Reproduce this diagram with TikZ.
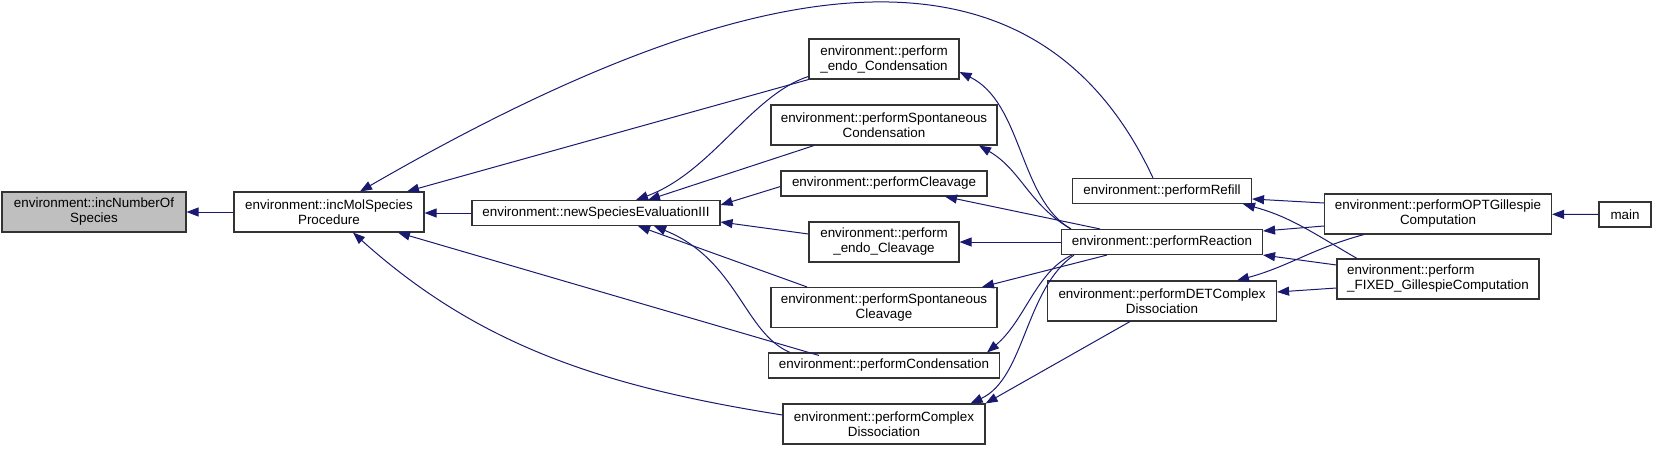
\documentclass[tikz,border=0pt]{standalone}
\usepackage{fontspec}
\setmainfont{Liberation Sans}
\usetikzlibrary{arrows.meta}
\definecolor{edgeblue}{HTML}{191970}
\newcommand{\fnfont}{\fontsize{13.4}{15}\selectfont}

\begin{document}
\begin{tikzpicture}[
  x=1pt, y=1pt,
  fn/.style={draw=black!80, line width=1.1pt, inner sep=0pt, align=center, font=\fnfont, minimum height=25pt},
  fn2/.style={fn, minimum height=40pt},
  call/.style={draw=edgeblue, line width=1pt, -{Triangle[length=12pt,width=9pt]}}
]
\useasboundingbox (0,0) rectangle (1656,-450);

\node[fn2, fill=gray!50, minimum width=184pt] (nos) at (94,-212) {environment::incNumberOf\\Species};
\node[fn2, minimum width=190pt] (mol) at (329,-212) {environment::incMolSpecies\\Procedure};
\node[fn, minimum width=248pt] (nse) at (596,-213) {environment::newSpeciesEvaluationIII};

\node[fn2, minimum width=150pt] (endoC)  at (884,-59)    {environment::perform\\\_endo\_Condensation};
\node[fn2, minimum width=226pt] (spC)    at (884,-125)   {environment::performSpontaneous\\Condensation};
\node[fn,  minimum width=206pt] (clv)    at (884,-183.5) {environment::performCleavage};
\node[fn2, minimum width=150pt] (endoCl) at (884,-242)   {environment::perform\\\_endo\_Cleavage};
\node[fn2, minimum width=226pt] (spCl)   at (884,-307.5) {environment::performSpontaneous\\Cleavage};
\node[fn,  minimum width=231pt] (cond)   at (884,-365.5) {environment::performCondensation};
\node[fn2, minimum width=202pt] (cplx)   at (884,-424)   {environment::performComplex\\Dissociation};

\node[fn,  minimum width=179pt] (refill) at (1162,-191) {environment::performRefill};
\node[fn,  minimum width=201pt] (react)  at (1162,-242) {environment::performReaction};
\node[fn2, minimum width=229pt] (det)    at (1162,-301) {environment::performDETComplex\\Dissociation};

\node[fn2, minimum width=227pt] (opt)   at (1438,-214) {environment::performOPTGillespie\\Computation};
\node[fn2, minimum width=202pt, align=left] (fixed) at (1438,-279) {environment::perform\\\_FIXED\_GillespieComputation};
\node[fn,  minimum width=52pt] (main) at (1625,-214.5) {main};

\draw[call] (mol) -- (nos);
\draw[call] (nse.west) -- (nse.west -| mol.east);
\draw[call] (endoC.south west) -- ([xshift=78pt]mol.north);
\draw[call] ([xshift=-9pt]refill.north) to[out=115, in=30, out distance=300pt, in distance=420pt] ([xshift=31pt]mol.north);
\draw[call] ([yshift=-3pt]cond.north) ++(-65,0) -- ([xshift=69pt]mol.south);
\draw[call] ([yshift=9pt]cplx.west) to[out=171, in=-42, out distance=180pt, in distance=170pt] ([xshift=24pt]mol.south);

\draw[call] (endoC.193) to[out=198, in=20, out distance=60pt, in distance=80pt] ([xshift=40pt]nse.north);
\draw[call] ([xshift=-70pt]spC.south) -- ([xshift=52pt]nse.north);
\draw[call] ([yshift=-3pt]clv.west) -- ([yshift=8pt]nse.east);
\draw[call] ([yshift=8pt]endoCl.west) -- ([yshift=-9pt]nse.east);
\draw[call] ([xshift=-77pt]spCl.north) -- ([xshift=42pt]nse.south);
\draw[call] ([xshift=-94pt]cond.north) to[out=157, in=-22, out distance=50pt, in distance=90pt] ([xshift=58pt]nse.south);

\draw[call] ([xshift=10pt]react.north west) to[out=150, in=-26, out distance=60pt, in distance=70pt] ([yshift=-13pt]endoC.east);
\draw[call] ([xshift=10pt]react.north west) to[out=150, in=-30] ([xshift=95pt]spC.south);
\draw[call] ([xshift=-62pt]react.north) -- ([xshift=61pt]clv.south);
\draw[call] (react.west) -- (endoCl.east);
\draw[call] ([xshift=-55pt]react.south) -- ([xshift=98pt]spCl.north);
\draw[call] ([xshift=11pt]react.south west) to[out=205, in=40, out distance=40pt, in distance=50pt] ([xshift=103pt]cond.north);
\draw[call] ([xshift=13pt]react.south west) to[out=215, in=25, out distance=60pt, in distance=60pt] ([xshift=-15pt]cplx.north east);
\draw[call] ([xshift=-32pt]det.south) -- (cplx.north east);

\draw[call] ([yshift=11pt]opt.west) -- ([yshift=-8pt]refill.east);
\draw[call] ([yshift=-12pt]opt.west) -- ([yshift=11pt]react.east);
\draw[call] ([xshift=-74pt]opt.south) to[out=195, in=15] ([xshift=75pt]det.north);
\draw[call] ([xshift=-81pt]fixed.north) to[out=150, in=-15] ([xshift=81pt]refill.south);
\draw[call] ([yshift=14pt]fixed.west) -- (react.south east);
\draw[call] ([yshift=-9pt]fixed.west) -- ([yshift=9pt]det.east);
\draw[call] (main) -- (opt);
\end{tikzpicture}
\end{document}
